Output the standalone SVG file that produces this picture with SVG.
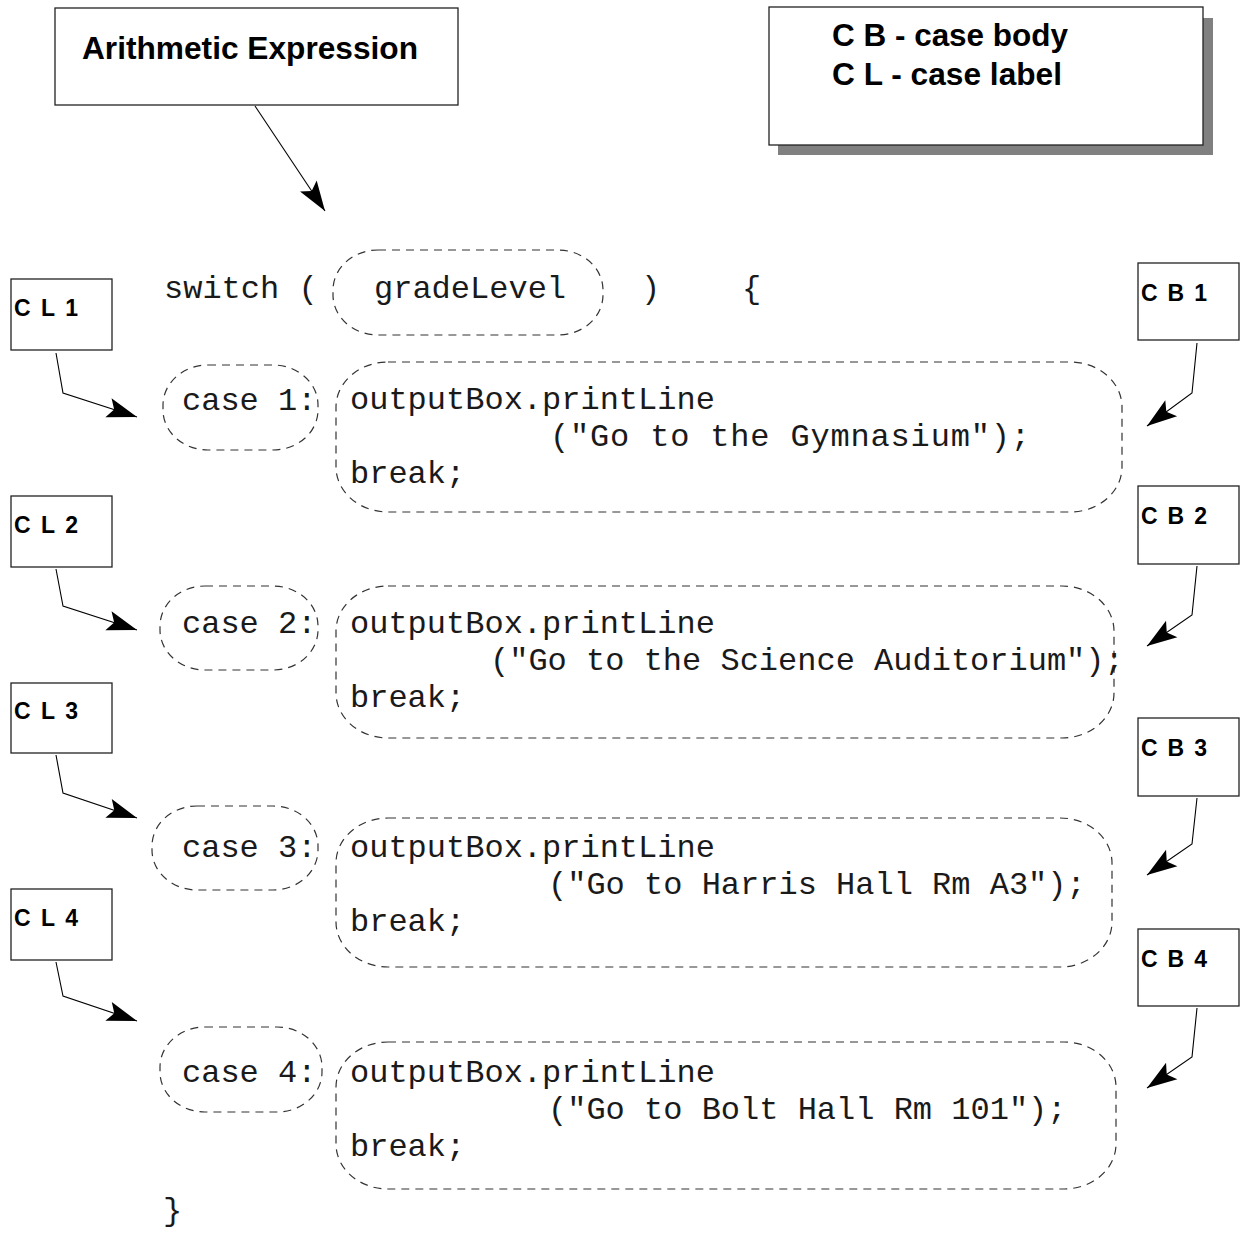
<svg xmlns="http://www.w3.org/2000/svg" width="1241" height="1238" viewBox="0 0 1241 1238">
<style>
.box{fill:#fff;stroke:#222;stroke-width:1.3}
.dash{fill:none;stroke:#333;stroke-width:1.2;stroke-dasharray:8 6}
.code{font-family:"Liberation Mono","Courier New",monospace;font-size:32px;fill:#1a1a1a}
.lbl{font-family:"Liberation Sans",Arial,sans-serif;font-weight:bold;font-size:23px;fill:#000}
.big{font-family:"Liberation Sans",Arial,sans-serif;font-weight:bold;font-size:32px;fill:#000}
.conn{fill:none;stroke:#000;stroke-width:1.1}
</style>
<defs>
<marker id="ah" viewBox="-32 -12 34 24" refX="0" refY="0" markerWidth="34" markerHeight="24" markerUnits="userSpaceOnUse" orient="auto">
<path d="M0,0 L-30,-10 L-24,0 L-30,10 Z" fill="#000"/>
</marker>
</defs>
<rect width="1241" height="1238" fill="#fff"/>

<g id="arith">
<rect class="box" x="55" y="8" width="403" height="97"/>
<text class="big" x="82" y="59" textLength="336" lengthAdjust="spacingAndGlyphs">Arithmetic Expression</text>
</g>

<g id="legend">
<rect x="778" y="18" width="435" height="137" fill="#808080"/>
<rect class="box" x="769" y="7" width="434" height="138"/>
<text class="big" x="832" y="46" textLength="236" lengthAdjust="spacingAndGlyphs">C B - case body</text>
<text class="big" x="832" y="85" textLength="230" lengthAdjust="spacingAndGlyphs">C L - case label</text>
</g>

<g id="switch">
<text class="code" x="164" y="298" xml:space="preserve">switch (</text>
<text class="code" x="641" y="298">)</text>
<text class="code" x="742" y="298">{</text>
<text class="code" x="163" y="1220">}</text>
</g>

<g id="gradeLevel">
<rect class="dash" x="333" y="250" width="270" height="85" rx="45" ry="40"/>
<text class="code" x="374" y="298">gradeLevel</text>
</g>

<g id="case1">
<rect class="dash" x="163" y="365" width="155" height="85" rx="45" ry="40"/>
<text class="code" x="182" y="410">case 1:</text>
</g>
<g id="body1">
<rect class="dash" x="336" y="362" width="786" height="150" rx="52" ry="45"/>
<text class="code" x="350" y="409">outputBox.printLine</text>
<text class="code" x="550" y="446" textLength="480">("Go to the Gymnasium");</text>
<text class="code" x="350" y="483">break;</text>
</g>

<g id="case2">
<rect class="dash" x="160" y="586" width="158" height="84" rx="45" ry="40"/>
<text class="code" x="182" y="633">case 2:</text>
</g>
<g id="body2">
<rect class="dash" x="336" y="586" width="778" height="152" rx="52" ry="45"/>
<text class="code" x="350" y="633">outputBox.printLine</text>
<text class="code" x="490" y="670">("Go to the Science Auditorium");</text>
<text class="code" x="350" y="707">break;</text>
</g>

<g id="case3">
<rect class="dash" x="152" y="806" width="166" height="84" rx="45" ry="40"/>
<text class="code" x="182" y="857">case 3:</text>
</g>
<g id="body3">
<rect class="dash" x="336" y="818" width="776" height="149" rx="52" ry="45"/>
<text class="code" x="350" y="857">outputBox.printLine</text>
<text class="code" x="548" y="894">("Go to Harris Hall Rm A3");</text>
<text class="code" x="350" y="931">break;</text>
</g>

<g id="case4">
<rect class="dash" x="160" y="1027" width="162" height="85" rx="45" ry="40"/>
<text class="code" x="182" y="1082">case 4:</text>
</g>
<g id="body4">
<rect class="dash" x="336" y="1042" width="780" height="147" rx="52" ry="45"/>
<text class="code" x="350" y="1082">outputBox.printLine</text>
<text class="code" x="548" y="1119">("Go to Bolt Hall Rm 101");</text>
<text class="code" x="350" y="1156">break;</text>
</g>

<g id="CL1"><rect class="box" x="11" y="279" width="101" height="71"/><text class="lbl" x="14" y="316" textLength="64">C L 1</text></g>
<g id="CL2"><rect class="box" x="11" y="496" width="101" height="71"/><text class="lbl" x="14" y="533" textLength="64">C L 2</text></g>
<g id="CL3"><rect class="box" x="11" y="683" width="101" height="70"/><text class="lbl" x="14" y="719" textLength="64">C L 3</text></g>
<g id="CL4"><rect class="box" x="11" y="889" width="101" height="71"/><text class="lbl" x="14" y="926" textLength="64">C L 4</text></g>

<g id="CB1"><rect class="box" x="1138" y="263" width="101" height="77"/><text class="lbl" x="1141" y="301" textLength="66">C B 1</text></g>
<g id="CB2"><rect class="box" x="1138" y="486" width="101" height="78"/><text class="lbl" x="1141" y="524" textLength="66">C B 2</text></g>
<g id="CB3"><rect class="box" x="1138" y="718" width="101" height="78"/><text class="lbl" x="1141" y="756" textLength="66">C B 3</text></g>
<g id="CB4"><rect class="box" x="1138" y="929" width="101" height="77"/><text class="lbl" x="1141" y="967" textLength="66">C B 4</text></g>

<g id="connectors">
<polyline class="conn" points="255,106 325,211" marker-end="url(#ah)"/>
<polyline class="conn" points="56,353 63,393 137,417" marker-end="url(#ah)"/>
<polyline class="conn" points="56,569 63,606 137,630" marker-end="url(#ah)"/>
<polyline class="conn" points="56,755 63,793 137,818" marker-end="url(#ah)"/>
<polyline class="conn" points="56,962 63,996 137,1021" marker-end="url(#ah)"/>
<polyline class="conn" points="1197,343 1192,393 1147,426" marker-end="url(#ah)"/>
<polyline class="conn" points="1197,566 1192,615 1147,646" marker-end="url(#ah)"/>
<polyline class="conn" points="1197,798 1192,844 1147,875" marker-end="url(#ah)"/>
<polyline class="conn" points="1197,1008 1192,1057 1147,1088" marker-end="url(#ah)"/>
</g>
</svg>
